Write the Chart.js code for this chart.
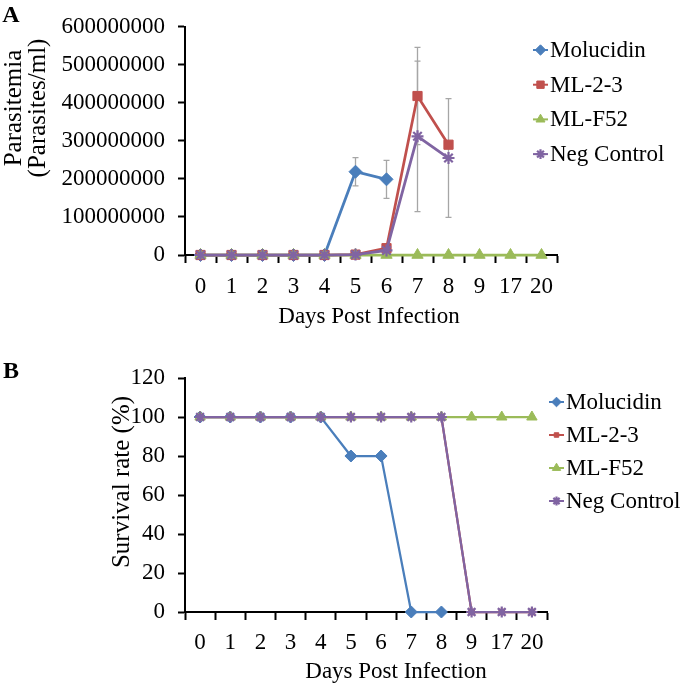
<!DOCTYPE html>
<html>
<head>
<meta charset="utf-8">
<script src="https://cdn.jsdelivr.net/npm/chart.js@4.4.1/dist/chart.umd.min.js"></script>
<style>
  body { margin: 0; background: #fff; }
  #wrap { position: relative; width: 680px; height: 686px; }
  canvas { position: absolute; left: 0; }
</style>
</head>
<body>
<div id="wrap">
  <canvas id="chartA" width="680" height="340" style="top:0"></canvas>
  <canvas id="chartB" width="680" height="346" style="top:340px"></canvas>
</div>
<script>
// Days post infection (categories)
const days = ['0', '1', '2', '3', '4', '5', '6', '7', '8', '9', '17', '20'];

// A: parasitemia (parasites/ml)
const paraMolucidin = [0, 0, 0, 0, 0, 219000000, 199000000, null, null, null, null, null];
const paraML23      = [0, 0, 0, 0, 0, 1000000, 18000000, 418000000, 290000000, null, null, null];
const paraMLF52     = [0, 0, 0, 0, 0, 0, 0, 0, 0, 0, 0, 0];
const paraNeg       = [0, 0, 0, 0, 0, 1000000, 12000000, 312000000, 255000000, null, null, null];

// A: error bars (+/-)
const errMolucidin = [null, null, null, null, null, 37000000, 50000000, null, null, null, null, null];
const errML23      = [null, null, null, null, null, null, null, 128000000, null, null, null, null];
const errNeg       = [null, null, null, null, null, null, null, 198000000, 156000000, null, null, null];

// B: survival rate (%)
const survMolucidin = [100, 100, 100, 100, 100, 80, 80, 0, 0, null, null, null];
const survML23      = [100, 100, 100, 100, 100, 100, 100, 100, 100, 0, 0, 0];
const survMLF52     = [100, 100, 100, 100, 100, 100, 100, 100, 100, 100, 100, 100];
const survNeg       = [100, 100, 100, 100, 100, 100, 100, 100, 100, 0, 0, 0];

// tick values
const paraTicks = [0, 100000000, 200000000, 300000000, 400000000, 500000000, 600000000];
const survTicks = [0, 20, 40, 60, 80, 100, 120];

const SERIF = "'Liberation Serif', 'Times New Roman', serif";
const BLUE = '#4A7EBB', RED = '#C0504D', GREEN = '#9BBB59', PURPLE = '#8064A2';

// error bars drawn behind the lines
const errorBarPlugin = {
    id: 'errorBars',
    beforeDatasetsDraw(chart) {
        const xs = chart.scales.x, ys = chart.scales.y;
        const ctx = chart.ctx;
        ctx.save();
        ctx.strokeStyle = '#A6A6A6';
        ctx.lineWidth = 1.3;
        chart.data.datasets.forEach(ds => {
            if (!ds.errors) return;
            ds.errors.forEach((e, i) => {
                if (e == null || ds.data[i] == null) return;
                const px = xs.getPixelForValue(i);
                const top = ys.getPixelForValue(ds.data[i] + e);
                const bot = ys.getPixelForValue(ds.data[i] - e);
                ctx.beginPath();
                ctx.moveTo(px, top); ctx.lineTo(px, bot);
                ctx.moveTo(px - 3, top); ctx.lineTo(px + 3, top);
                ctx.moveTo(px - 3, bot); ctx.lineTo(px + 3, bot);
                ctx.stroke();
            });
        });
        ctx.restore();
    }
};

// panel letter, axis titles and the excel-like legend
const decorPlugin = {
    id: 'decor',
    afterDraw(chart) {
        const o = chart.options.plugins.decor;
        if (!o) return;
        const ctx = chart.ctx;
        ctx.save();
        ctx.fillStyle = '#000';
        ctx.textAlign = 'center';
        ctx.textBaseline = 'middle';

        ctx.font = 'bold 24px ' + SERIF;
        ctx.fillText(o.letter, o.letterPos[0], o.letterPos[1]);

        ctx.font = '23px ' + SERIF;
        ctx.fillText(o.xTitle, o.xTitlePos[0], o.xTitlePos[1]);

        ctx.font = '25px ' + SERIF;
        o.yTitle.forEach((line, k) => {
            ctx.save();
            ctx.translate(o.yTitleX[k], o.yTitleY);
            ctx.rotate(-Math.PI / 2);
            ctx.fillText(line, 0, 0);
            ctx.restore();
        });

        ctx.font = '23px ' + SERIF;
        ctx.textAlign = 'left';
        chart.data.datasets.forEach((ds, k) => {
            const lx = o.legendX, ly = o.legendY + k * o.legendStep;
            ctx.strokeStyle = ds.borderColor;
            ctx.lineWidth = 2;
            ctx.beginPath();
            ctx.moveTo(lx, ly); ctx.lineTo(lx + 15, ly);
            ctx.stroke();
            ctx.fillStyle = ds.pointBackgroundColor;
            ctx.strokeStyle = ds.pointBorderColor;
            ctx.lineWidth = ds.pointBorderWidth;
            Chart.helpers.drawPoint(ctx, {
                pointStyle: ds.pointStyle, rotation: 0,
                radius: ds.pointRadius * 0.8, borderWidth: ds.pointBorderWidth
            }, lx + 7.5, ly);
            ctx.fillStyle = '#000';
            ctx.fillText(ds.label, lx + 17, ly + 1);
        });
        ctx.restore();
    }
};

function makeSeries(label, data, color, style, radius, order, width, errors) {
    return {
        label: label,
        data: data,
        errors: errors,
        borderColor: color,
        backgroundColor: color,
        borderWidth: width,
        pointStyle: style,
        pointRadius: radius,
        pointHoverRadius: radius,
        pointBackgroundColor: color,
        pointBorderColor: color,
        pointBorderWidth: style === 'star' ? 2.2 : 1,
        tension: 0,
        spanGaps: false,
        clip: false,
        order: order
    };
}

function axisOptions(ticks, yWidth, xHeight, labelPad) {
    return {
        x: {
            type: 'category',
            offset: true,
            afterFit: s => { s.height = xHeight; },
            border: { display: true, color: '#000', width: 2 },
            grid: { offset: true, drawOnChartArea: false, drawTicks: true, tickLength: 8, tickColor: '#000', tickWidth: 2 },
            ticks: { color: '#000', font: { family: SERIF, size: 23 }, padding: labelPad, maxRotation: 0, autoSkip: false }
        },
        y: {
            min: ticks[0],
            max: ticks[ticks.length - 1],
            afterFit: s => { s.width = yWidth; },
            afterBuildTicks: s => { s.ticks = ticks.map(v => ({ value: v })); },
            border: { display: true, color: '#000', width: 2 },
            grid: { drawOnChartArea: false, drawTicks: true, tickLength: 7, tickColor: '#000', tickWidth: 2 },
            ticks: { color: '#000', font: { family: SERIF, size: 23 }, padding: 13, callback: v => String(v) }
        }
    };
}

function initParasitemiaChart() {
    const ctx = document.getElementById('chartA');
    new Chart(ctx, {
        type: 'line',
        data: {
            labels: days,
            datasets: [
                makeSeries('Molucidin', paraMolucidin, BLUE, 'rectRot', 6.5, 4, 2.75, errMolucidin),
                makeSeries('ML-2-3', paraML23, RED, 'rect', 6.5, 3, 2.75, errML23),
                makeSeries('ML-F52', paraMLF52, GREEN, 'triangle', 6.5, 2, 2.75, null),
                makeSeries('Neg Control', paraNeg, PURPLE, 'star', 6, 1, 2.75, errNeg)
            ]
        },
        options: {
            responsive: false,
            animation: false,
            layout: { padding: { left: 0, top: 17, right: 123, bottom: 0 } },
            plugins: {
                legend: { display: false },
                tooltip: { enabled: false },
                decor: {
                    letter: 'A', letterPos: [11, 16],
                    xTitle: 'Days Post Infection', xTitlePos: [369, 317],
                    yTitle: ['Parasitemia', '(Parasites/ml)'], yTitleX: [14, 38], yTitleY: 108,
                    legendX: 533, legendY: 50, legendStep: 34.7
                }
            },
            scales: axisOptions(paraTicks, 185, 85, 10)
        },
        plugins: [errorBarPlugin, decorPlugin]
    });
}

function initSurvivalChart() {
    const ctx = document.getElementById('chartB');
    new Chart(ctx, {
        type: 'line',
        data: {
            labels: days,
            datasets: [
                makeSeries('Molucidin', survMolucidin, BLUE, 'rectRot', 6, 4, 2.25, null),
                makeSeries('ML-2-3', survML23, RED, 'rect', 4, 3, 2.25, null),
                makeSeries('ML-F52', survMLF52, GREEN, 'triangle', 6, 2, 2.25, null),
                makeSeries('Neg Control', survNeg, PURPLE, 'star', 5.5, 1, 2.25, null)
            ]
        },
        options: {
            responsive: false,
            animation: false,
            layout: { padding: { left: 0, top: 38, right: 133, bottom: 0 } },
            plugins: {
                legend: { display: false },
                tooltip: { enabled: false },
                decor: {
                    letter: 'B', letterPos: [11, 32],
                    xTitle: 'Days Post Infection', xTitlePos: [396, 332],
                    yTitle: ['Survival rate (%)'], yTitleX: [122], yTitleY: 142,
                    legendX: 549, legendY: 62, legendStep: 33
                }
            },
            scales: axisOptions(survTicks, 185, 74, 9)
        },
        plugins: [errorBarPlugin, decorPlugin]
    });
}

initParasitemiaChart();
initSurvivalChart();
</script>
</body>
</html>
